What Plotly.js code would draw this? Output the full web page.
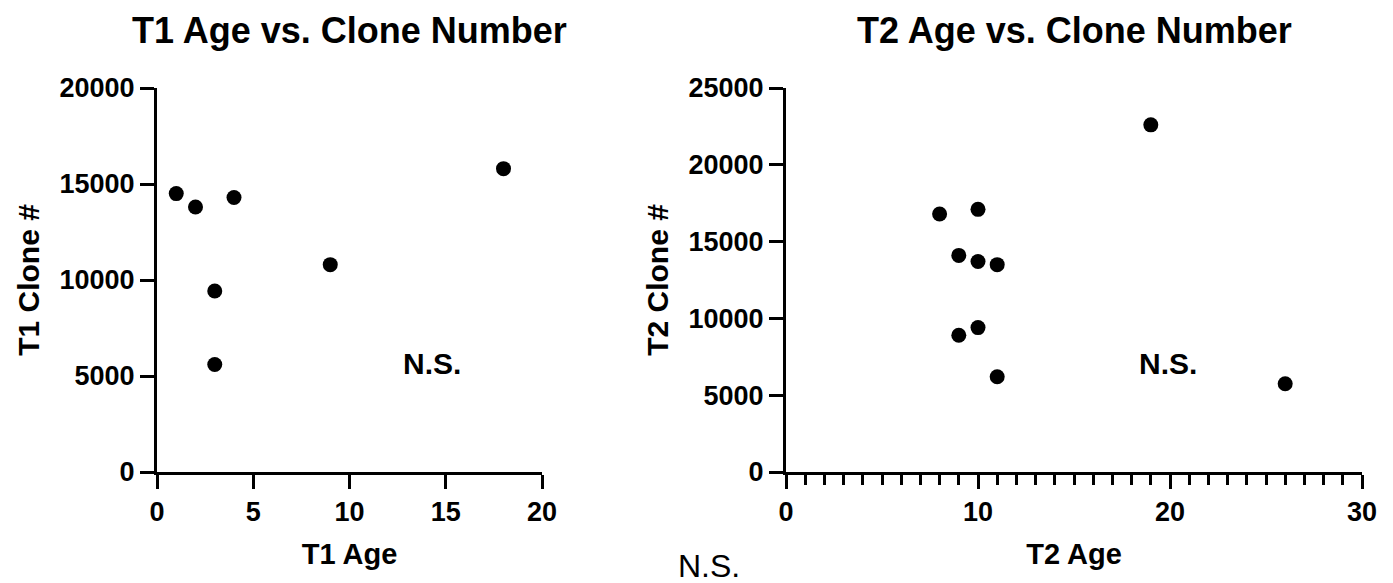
<!DOCTYPE html>
<html>
<head>
<meta charset="utf-8">
<script src="https://cdn.plot.ly/plotly-3.0.1.min.js"></script>
<style>html,body{margin:0;padding:0;background:#fff;}#chart{width:1393px;height:583px;}</style>
</head>
<body>
<div id="chart"></div>
<script>
// T1 panel data
const t1Age   = [1, 2, 3, 3, 4, 9, 18];
const t1Clone = [14500, 13800, 9430, 5600, 14300, 10800, 15800];
// T2 panel data
const t2Age   = [8, 10, 9, 10, 11, 10, 9, 11, 19, 26];
const t2Clone = [16800, 17100, 14100, 13700, 13500, 9400, 8900, 6200, 22600, 5750];

const t1Title = "T1 Age vs. Clone Number";
const t2Title = "T2 Age vs. Clone Number";
const t1XLabel = "T1 Age", t1YLabel = "T1 Clone #";
const t2XLabel = "T2 Age", t2YLabel = "T2 Clone #";
const sigLabel = "N.S.";

const FONT = "Liberation Sans, Arial, sans-serif";
const marker = {color: "black", size: 15, symbol: "circle"};

const traces = [
  {x: t1Age, y: t1Clone, type: "scatter", mode: "markers", marker: marker, xaxis: "x", yaxis: "y", hoverinfo: "x+y"},
  {x: t2Age, y: t2Clone, type: "scatter", mode: "markers", marker: marker, xaxis: "x2", yaxis: "y2", hoverinfo: "x+y"}
];

function axisBase() {
  return {
    showgrid: false, zeroline: false, showline: true, linecolor: "black", linewidth: 3,
    ticks: "outside", ticklen: 14, tickwidth: 3, tickcolor: "black",
    tickformat: "d", separatethousands: false, exponentformat: "none",
    tickfont: {family: FONT, size: 27, color: "black", weight: "bold"},
    automargin: false, fixedrange: true
  };
}

const W = 1393, H = 583;
const xd1 = [157 / W, 542 / W];
const xd2 = [786 / W, 1362 / W];
const yd = [(H - 472) / H, (H - 88) / H];

const layout = {
  width: W, height: H,
  margin: {l: 0, r: 0, t: 0, b: 0},
  paper_bgcolor: "white", plot_bgcolor: "white",
  showlegend: false,
  font: {family: FONT, color: "black"},
  xaxis: Object.assign(axisBase(), {
    domain: xd1, range: [0, 20], tickvals: [0, 5, 10, 15, 20], anchor: "y",
    title: {text: t1XLabel, standoff: 18, font: {family: FONT, size: 29, color: "black", weight: "bold"}}
  }),
  yaxis: Object.assign(axisBase(), {
    domain: yd, range: [0, 20000], tickvals: [0, 5000, 10000, 15000, 20000], anchor: "x",
    title: {text: t1YLabel, standoff: 12, font: {family: FONT, size: 30, color: "black", weight: "bold"}}
  }),
  xaxis2: Object.assign(axisBase(), {
    domain: xd2, range: [0, 30], tickvals: [0, 10, 20, 30], anchor: "y2",
    minor: {dtick: 1, ticks: "outside", ticklen: 10, tickwidth: 3, tickcolor: "black", showgrid: false},
    title: {text: t2XLabel, standoff: 18, font: {family: FONT, size: 29, color: "black", weight: "bold"}}
  }),
  yaxis2: Object.assign(axisBase(), {
    domain: yd, range: [0, 25000], tickvals: [0, 5000, 10000, 15000, 20000, 25000], anchor: "x2",
    title: {text: t2YLabel, standoff: 12, font: {family: FONT, size: 30, color: "black", weight: "bold"}}
  }),
  annotations: [
    {text: t1Title, xref: "paper", yref: "paper", x: (xd1[0] + xd1[1]) / 2, y: (H - 30) / H,
     xanchor: "center", yanchor: "middle", showarrow: false,
     font: {family: FONT, size: 36, color: "black", weight: "bold"}},
    {text: t2Title, xref: "paper", yref: "paper", x: (xd2[0] + xd2[1]) / 2, y: (H - 30) / H,
     xanchor: "center", yanchor: "middle", showarrow: false,
     font: {family: FONT, size: 36, color: "black", weight: "bold"}},
    {text: sigLabel, xref: "x", yref: "y", x: 14.3, y: 5650, xanchor: "center", yanchor: "middle",
     showarrow: false, font: {family: FONT, size: 30, color: "black", weight: "bold"}},
    {text: sigLabel, xref: "x2", yref: "y2", x: 19.9, y: 7050, xanchor: "center", yanchor: "middle",
     showarrow: false, font: {family: FONT, size: 30, color: "black", weight: "bold"}},
    {text: sigLabel, xref: "paper", yref: "paper", x: 709 / W, y: (H - 566) / H, xanchor: "center", yanchor: "middle",
     showarrow: false, font: {family: FONT, size: 32, color: "black"}}
  ]
};

Plotly.newPlot("chart", traces, layout, {displayModeBar: false, staticPlot: true});
</script>
</body>
</html>
